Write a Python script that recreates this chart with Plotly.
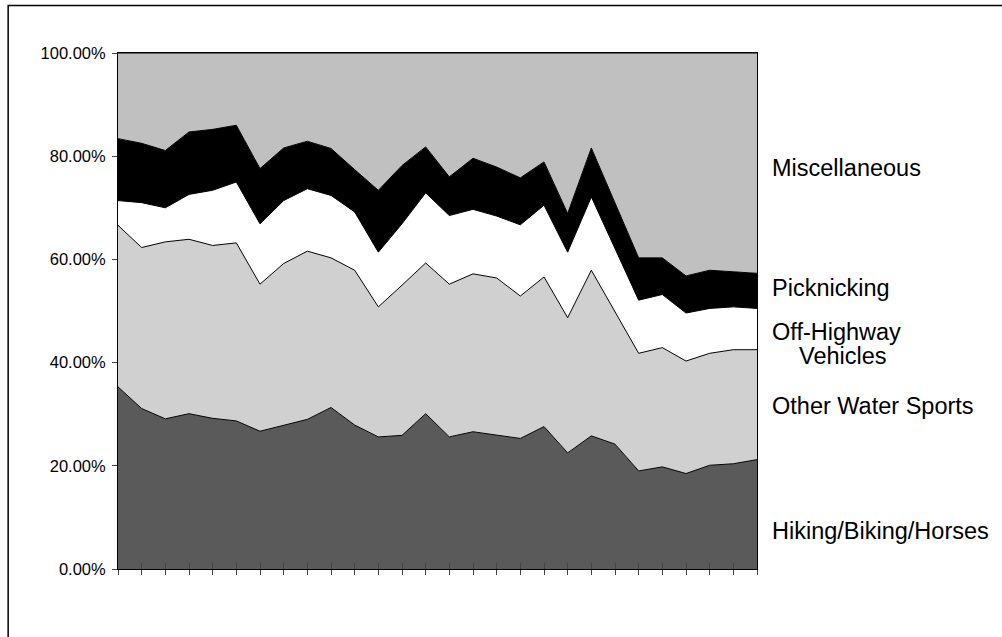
import plotly.graph_objects as go

# Share of visits by activity (percent of total), one value per period
periods = list(range(28))

hiking = [35.3, 31.1, 29.1, 30.1, 29.2, 28.7, 26.7, 27.9, 29.0, 31.3, 27.9, 25.6, 25.9, 30.1,
          25.6, 26.6, 25.9, 25.3, 27.6, 22.5, 25.8, 24.2, 19.0, 19.8, 18.5, 20.1, 20.4, 21.2]
water_sports = [31.3, 31.2, 34.3, 33.8, 33.5, 34.5, 28.5, 31.3, 32.6, 29.0, 30.0, 25.2, 29.1, 29.2,
                29.6, 30.6, 30.5, 27.6, 29.0, 26.2, 32.1, 25.6, 22.8, 23.1, 21.8, 21.7, 22.1, 21.3]
off_highway = [4.8, 8.7, 6.6, 8.7, 10.7, 11.8, 11.7, 12.2, 12.1, 12.1, 11.3, 10.6, 11.9, 13.6,
               13.3, 12.5, 12.0, 13.8, 13.9, 12.7, 14.2, 12.2, 10.3, 10.3, 9.3, 8.7, 8.3, 8.0]
picknicking = [12.0, 11.5, 11.1, 12.1, 11.8, 11.0, 10.7, 10.2, 9.2, 9.1, 8.2, 12.0, 11.3, 8.9,
               7.5, 9.9, 9.5, 9.1, 8.4, 7.5, 9.5, 9.0, 8.2, 7.1, 7.2, 7.4, 6.8, 6.8]
miscellaneous = [16.6, 17.5, 18.9, 15.3, 14.8, 14.0, 22.4, 18.4, 17.1, 18.5, 22.6, 26.6, 21.8, 18.2,
                 24.0, 20.4, 22.1, 24.2, 21.1, 31.1, 18.4, 29.0, 39.7, 39.7, 43.2, 42.1, 42.4, 42.7]

series = [
    ("Hiking/Biking/Horses", hiking, "#5a5a5a"),
    ("Other Water Sports", water_sports, "#d0d0d0"),
    ("Off-Highway Vehicles", off_highway, "#ffffff"),
    ("Picknicking", picknicking, "#000000"),
    ("Miscellaneous", miscellaneous, "#c0c0c0"),
]

FONT = "Liberation Sans, Arial, sans-serif"

fig = go.Figure()
for name, vals, color in series:
    fig.add_trace(go.Scatter(
        x=periods, y=vals, name=name, mode="lines",
        stackgroup="share", groupnorm="percent",
        line=dict(color="#000000", width=1),
        fillcolor=color, hoverinfo="skip",
    ))

# Second x axis carries the inward half of the crossing tick marks
fig.add_trace(go.Scatter(x=[periods[0]], y=[0], xaxis="x2", mode="markers",
                         marker=dict(opacity=0), showlegend=False, hoverinfo="skip"))

# Series labels to the right of the plot
labels = [
    ("Miscellaneous", 1.0200, 77.8),
    ("Picknicking", 1.0200, 54.5),
    ("Off-Highway", 1.0200, 46.0),
    ("Vehicles", 1.0627, 41.2),
    ("Other Water Sports", 1.0200, 31.6),
    ("Hiking/Biking/Horses", 1.0200, 7.4),
]
annotations = [
    dict(text=t, x=x, y=y, xref="paper", yref="y", xanchor="left", yanchor="middle",
         showarrow=False, font=dict(family=FONT, size=23.5, color="#000000"))
    for t, x, y in labels
]

fig.update_layout(
    width=1002, height=637,
    margin=dict(l=117.5, r=244.6, t=53, b=68),
    paper_bgcolor="#ffffff", plot_bgcolor="#ffffff",
    showlegend=False,
    font=dict(family=FONT, size=16, color="#000000"),
    xaxis=dict(range=[0, 27], tickvals=periods, showticklabels=False,
               ticks="outside", ticklen=5, tickcolor="#444444", tickwidth=1,
               showgrid=False, zeroline=False, showline=True, linecolor="#000000",
               linewidth=1, mirror=True),
    xaxis2=dict(range=[0, 27], tickvals=periods, showticklabels=False, overlaying="x",
                ticks="inside", ticklen=6, tickcolor="#444444", tickwidth=1,
                showgrid=False, zeroline=False, showline=False, side="bottom",
                anchor="y"),
    yaxis=dict(range=[0, 100], tickvals=[0, 20, 40, 60, 80, 100],
               ticktext=["0.00%", "20.00%", "40.00%", "60.00%", "80.00%", "100.00%"],
               ticks="outside", ticklen=5, tickcolor="#444444", tickwidth=1,
               ticklabelstandoff=3,
               showgrid=False, zeroline=False, showline=True, linecolor="#000000",
               linewidth=1, mirror=True,
               tickfont=dict(family=FONT, size=16.5, color="#000000")),
    annotations=annotations,
    shapes=[dict(type="rect", xref="paper", yref="paper",
                 x0=-0.1719, y0=1.092, x1=1.45, y1=-0.25,
                 line=dict(color="#000000", width=1.5), fillcolor="rgba(0,0,0,0)",
                 layer="below")],
)

fig.write_html("out.html")
